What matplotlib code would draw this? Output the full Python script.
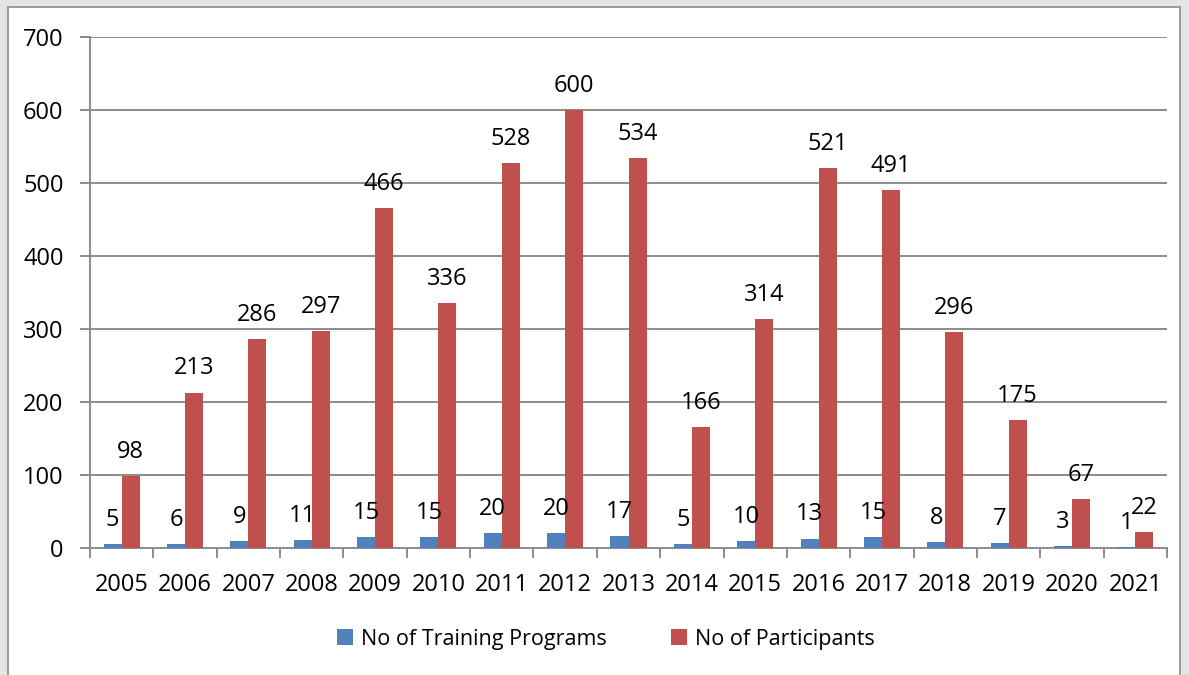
import matplotlib
matplotlib.use("Agg")
import matplotlib.pyplot as plt
from matplotlib.patches import Rectangle, Patch
import numpy as np

years = ["2005", "2006", "2007", "2008", "2009", "2010", "2011", "2012", "2013",
         "2014", "2015", "2016", "2017", "2018", "2019", "2020", "2021"]
programs = [5, 6, 9, 11, 15, 15, 20, 20, 17, 5, 10, 13, 15, 8, 7, 3, 1]
participants = [98, 213, 286, 297, 466, 336, 528, 600, 534, 166, 314, 521, 491, 296, 175, 67, 22]
series_names = ["No of Training Programs", "No of Participants"]
colors = ["#4F81BD", "#C0504D"]

plt.rcParams['font.family'] = ['Open Sans', 'DejaVu Sans']

W, H = 1189, 675
fig = plt.figure(figsize=(W / 100, H / 100), dpi=100)
fig.patch.set_facecolor("#e4e4e4")
fig.patches.append(Rectangle((8 / W, -0.01), (1180 - 8) / W, (H - 7) / H + 0.01,
                             transform=fig.transFigure, facecolor="white",
                             edgecolor="#8c8c8c", linewidth=1.2, zorder=-5))

ax = fig.add_axes([90 / W, (H - 548) / H, (1167 - 90) / W, (548 - 37) / H])
ax.set_facecolor("none")
ax.set_zorder(2)

x = np.arange(len(years))
bw = 0.285
b1 = ax.bar(x - bw / 2, programs, bw, color=colors[0], zorder=3)
b2 = ax.bar(x + bw / 2, participants, bw, color=colors[1], zorder=3)

for bars, vals in ((b1, programs), (b2, participants)):
    for r, v in zip(bars, vals):
        ax.annotate(str(v), (r.get_x() + r.get_width() / 2, r.get_height()),
                    xytext=(0, 13), textcoords="offset points",
                    ha="center", va="baseline", fontsize=17, color="black", zorder=4)

ax.set_xlim(-0.5, len(years) - 0.5)
ax.set_ylim(0, 700)
ax.set_yticks(range(0, 701, 100))
ax.yaxis.grid(True, color="#8c8c8c", linewidth=1.4, zorder=0)
ax.set_axisbelow(True)

ax.set_xticks(x)
ax.set_xticklabels(years, fontsize=17)
ax.set_xticks(np.arange(-0.5, len(years), 1), minor=True)
ax.tick_params(axis="x", which="major", length=0, pad=18)
ax.tick_params(axis="x", which="minor", length=7, width=1.4, color="#8c8c8c", direction="out")
ax.tick_params(axis="y", length=7, width=1.4, color="#8c8c8c", labelsize=17, pad=12)

for s in ("top", "right"):
    ax.spines[s].set_visible(False)
for s in ("left", "bottom"):
    ax.spines[s].set_color("#8c8c8c")
    ax.spines[s].set_linewidth(1.4)

handles = [Patch(facecolor=c, label=n) for c, n in zip(colors, series_names)]
fig.legend(handles=handles, loc="center", bbox_to_anchor=(606 / W, (H - 639) / H),
           ncol=2, frameon=False, fontsize=15.5, handlelength=0.75, handleheight=0.75,
           handletextpad=0.35, columnspacing=3.0)

fig.savefig("out.png", dpi=100, facecolor=fig.get_facecolor())
